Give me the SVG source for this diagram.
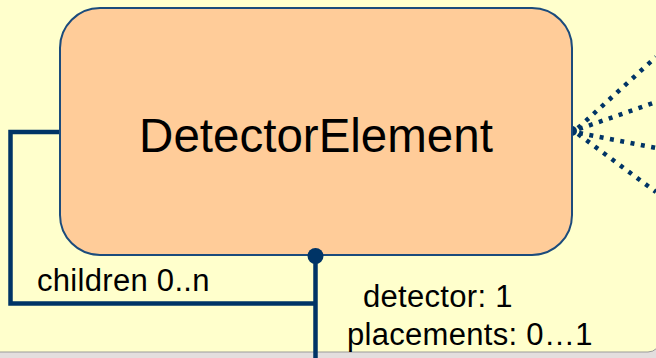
<svg xmlns="http://www.w3.org/2000/svg" width="656" height="358" viewBox="0 0 656 358">
  <style>
    .link { fill: none; stroke: #003466; stroke-width: 4.5; }
    .dotted { fill: none; stroke: #003466; stroke-width: 4.5; stroke-dasharray: 4 6.5; }
    .label { font-family: "Liberation Sans", Arial, sans-serif; font-size: 31px; letter-spacing: 0.3px; fill: #000; }
    .title { font-family: "Liberation Sans", Arial, sans-serif; font-size: 47.5px; fill: #000; }
  </style>
  <rect x="0" y="0" width="656" height="358" fill="#E3DEDE"/>
  <rect x="-20" y="-20" width="680" height="372" rx="12" fill="#FFFFCC" stroke="#9A9A9A" stroke-width="1"/>
  <g id="connectors">
    <path class="link" d="M 59 132 H 10.5 V 303.5 H 316"/>
    <path class="link" d="M 315.5 256 V 358"/>
    <path class="dotted" d="M 578 128 L 656 57"/>
    <path class="dotted" d="M 579 129 L 656 102"/>
    <path class="dotted" d="M 579 133 L 656 148"/>
    <path class="dotted" d="M 578 134 L 656 192"/>
    <path d="M 572 126 A 5 5 0 0 1 572 136 Z" fill="#003466"/>
  </g>
  <g id="DetectorElement">
    <rect x="60" y="8" width="512" height="247" rx="40" ry="40" fill="#FFCC99" stroke="#1B4B7C" stroke-width="2"/>
    <text class="title" x="316" y="152" text-anchor="middle">DetectorElement</text>
  </g>
  <circle cx="315.5" cy="256" r="8" fill="#003466"/>
  <text class="label" x="37" y="291">children 0..n</text>
  <text class="label" x="363" y="307">detector: 1</text>
  <text class="label" x="347" y="345">placements: 0…1</text>
</svg>
